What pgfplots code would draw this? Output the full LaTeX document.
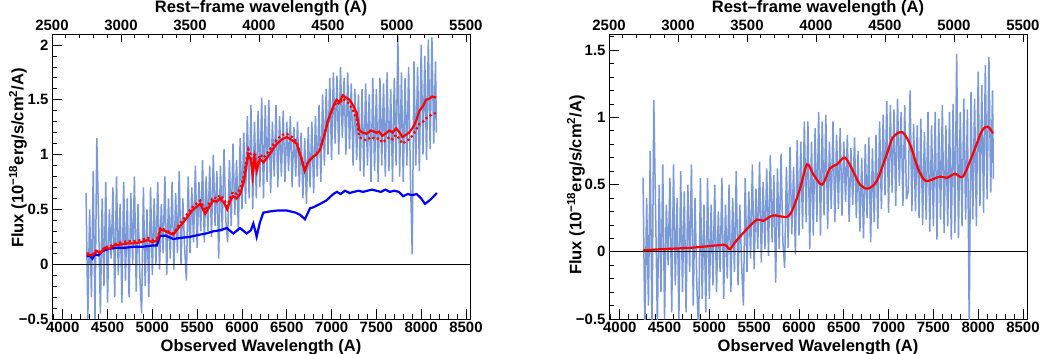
\documentclass[border=0pt]{standalone}
\usepackage{fontspec}
\setmainfont{Liberation Sans}
\usepackage{pgfplots}
\pgfplotsset{compat=1.18}
\usepackage{pgfplotstable}

\definecolor{spec}{RGB}{122,153,214}

% observed spectrum (left) and host-subtracted spectrum (right)
\pgfplotstableread{
lam fl fr
4260 0.65 0.55
4280 -0.50 -0.60
4300 0.50 0.40
4320 -0.30 -0.40
4340 0.85 0.75
4360 -0.50 -0.60
4380 1.15 1.13
4400 0.40 0.30
4420 -0.45 -0.55
4440 0.60 0.50
4460 -0.20 -0.30
4480 0.75 0.65
4500 -0.35 -0.50
4520 0.50 0.35
4540 0.05 -0.10
4560 0.70 0.55
4580 -0.30 -0.45
4600 0.80 0.65
4620 -0.10 -0.25
4640 0.55 0.40
4660 -0.35 -0.50
4680 0.75 0.60
4700 -0.15 -0.30
4720 0.60 0.45
4740 -0.30 -0.45
4760 0.65 0.50
4780 0.00 -0.15
4800 0.80 0.65
4820 -0.25 -0.40
4840 0.55 0.40
4860 -0.10 -0.25
4880 -0.45 -0.60
4900 0.70 0.55
4920 -0.20 -0.35
4940 0.50 0.35
4960 -0.30 -0.45
4980 0.70 0.55
5000 -0.10 -0.35
5020 0.60 0.35
5040 0.00 -0.25
5060 0.75 0.50
5080 -0.05 -0.30
5100 0.55 0.30
5120 0.10 -0.15
5140 0.80 0.55
5160 -0.10 -0.35
5180 0.60 0.35
5200 0.05 -0.20
5220 0.75 0.50
5240 -0.05 -0.30
5260 0.65 0.40
5280 0.10 -0.15
5300 0.85 0.60
5320 0.00 -0.25
5340 0.60 0.35
5360 0.15 -0.10
5380 -0.15 -0.40
5400 0.80 0.55
5420 0.10 -0.15
5440 0.70 0.45
5460 0.20 -0.05
5480 0.90 0.65
5500 0.15 -0.13
5520 0.75 0.47
5540 0.30 0.02
5560 0.95 0.67
5580 0.20 -0.08
5600 0.80 0.52
5620 0.30 0.02
5640 0.90 0.62
5660 0.25 -0.03
5680 1.00 0.72
5700 0.35 0.07
5720 0.85 0.57
5740 0.05 -0.23
5760 0.90 0.62
5780 0.30 0.02
5800 1.05 0.73
5820 0.40 0.08
5840 0.20 -0.12
5860 0.95 0.63
5880 0.35 0.03
5900 1.10 0.78
5920 0.45 0.13
5940 0.95 0.63
5960 0.30 -0.02
5980 1.15 0.83
6000 0.50 0.12
6020 1.20 0.82
6040 0.55 0.17
6060 1.35 0.97
6080 0.60 0.22
6100 1.45 0.97
6120 0.50 0.02
6140 1.30 0.82
6160 0.60 0.12
6180 1.40 0.92
6200 0.70 0.22
6220 1.52 1.04
6240 0.60 0.12
6260 1.45 0.97
6280 0.75 0.27
6300 1.50 1.02
6320 0.65 0.17
6340 1.30 0.82
6360 0.80 0.32
6380 1.45 0.97
6400 0.70 0.22
6420 1.35 0.87
6440 0.80 0.32
6460 1.40 0.92
6480 0.75 0.27
6500 1.30 0.82
6520 0.85 0.37
6540 1.35 0.87
6560 0.70 0.22
6580 1.25 0.77
6600 0.80 0.35
6620 1.30 0.85
6640 0.70 0.25
6660 1.20 0.75
6680 0.60 0.15
6700 1.15 0.70
6720 0.55 0.10
6740 1.25 0.80
6760 0.70 0.25
6780 1.30 0.85
6800 0.65 0.07
6820 1.35 0.77
6840 0.80 0.22
6860 1.45 0.87
6880 0.75 0.17
6900 1.55 0.97
6920 0.90 0.32
6940 1.60 1.02
6960 1.00 0.42
6980 1.70 1.12
7000 0.95 0.29
7020 1.75 1.09
7040 1.10 0.44
7060 1.72 1.06
7080 1.00 0.34
7100 1.80 1.14
7120 1.15 0.49
7140 1.70 1.04
7160 1.00 0.34
7180 1.75 1.09
7200 1.05 0.39
7220 1.65 0.45
7240 0.90 1.20
7260 1.60 0.30
7280 0.95 0.95
7300 1.55 0.30
7320 0.85 0.94
7340 1.60 0.25
7360 0.80 0.99
7380 1.65 0.20
7400 0.90 0.89
7420 1.55 0.24
7440 0.75 1.04
7460 1.70 0.15
7480 0.85 0.94
7500 1.60 0.19
7520 0.75 1.04
7540 1.70 0.09
7560 0.90 0.99
7580 1.65 0.24
7600 0.80 1.09
7620 1.75 0.14
7640 0.85 0.94
7660 1.60 0.19
7680 0.75 1.04
7700 1.70 0.09
7720 0.90 1.10
7740 2.08 0.14
7760 0.80 1.47
7780 1.75 0.10
7800 0.75 1.04
7820 1.70 0.19
7840 0.90 1.14
7860 1.80 0.24
7880 0.80 1.06
7900 0.09 -0.55
7920 1.85 1.19
7940 0.90 0.24
7960 1.80 1.14
7980 0.85 0.19
8000 2.00 1.34
8020 1.00 0.34
8040 1.90 1.24
8060 0.95 0.29
8080 2.05 1.39
8100 1.05 0.39
8120 2.07 1.45
8140 1.10 0.44
8160 1.85 1.20
8170 1.20 0.54
}\spectab

\newcommand\tfont{\fontsize{16.6}{18}\selectfont\bfseries}

\pgfplotsset{
  flux/.style={
    scale only axis, width=418bp, height=285bp, anchor=south west,
    xmin=3880, xmax=8545,
    xtick={4000,4500,...,8500},
    minor xtick={3900,4000,...,8500},
    xtick pos=bottom, ytick pos=left, tick align=inside,
    major tick length=10bp, minor tick length=5bp,
    tick style={black, line width=0.7bp},
    axis line style={line width=0.8bp},
    /pgf/number format/1000 sep={},
    /pgf/number format/assume math mode=true,
    ticklabel style={font=\fontsize{15}{15}\selectfont\bfseries},
  },
  rest/.style={
    scale only axis, width=418bp, height=285bp, anchor=south west,
    xmin=2500, xmax=5530, ymin=0, ymax=1,
    axis x line*=top, axis y line=none,
    xtick={2500,3000,...,5500},
    minor xtick={2500,2600,...,5500},
    tick align=inside,
    major tick length=8bp, minor tick length=4bp,
    tick style={black, line width=0.7bp},
    axis line style={line width=0.8bp, -},
    /pgf/number format/1000 sep={},
    /pgf/number format/assume math mode=true,
    ticklabel style={font=\fontsize{15}{15}\selectfont\bfseries},
  },
  specline/.style={spec, line width=1.5bp, line join=bevel},
}

\begin{document}
\begin{tikzpicture}
\useasboundingbox (0,0) rectangle (1042bp,354bp);

% ---- left panel ----
\begin{axis}[flux, at={(52bp,35bp)}, ymin=-0.5, ymax=2.1,
  ytick={-0.5,0,0.5,1,1.5,2}, yticklabels={−0.5,0,0.5,1,1.5,2},
  minor ytick={-0.4,-0.3,-0.2,-0.1,0.1,0.2,0.3,0.4,0.6,0.7,0.8,0.9,1.1,1.2,1.3,1.4,1.6,1.7,1.8,1.9,2.1}]
\addplot[specline] table[x=lam, y=fl]{\spectab};
\addplot[black, line width=0.6bp] coordinates {(3880,0) (8545,0)};
\addplot[blue, line width=2.2bp] coordinates {
(4268,0.07) (4300,0.08) (4330,0.05) (4360,0.09) (4400,0.08) (4440,0.12) (4480,0.13)
(4520,0.14) (4600,0.15) (4700,0.15) (4800,0.16) (4900,0.16) (5000,0.17) (5050,0.17)
(5085,0.26) (5150,0.26) (5234,0.23) (5320,0.24) (5420,0.25) (5532,0.27) (5600,0.28)
(5680,0.30) (5760,0.31) (5830,0.33) (5904,0.28) (5978,0.33) (6053,0.28) (6100,0.31)
(6127,0.37) (6150,0.30) (6164,0.25) (6200,0.38) (6238,0.47) (6300,0.48) (6400,0.49)
(6499,0.49) (6600,0.47) (6650,0.45) (6703,0.41) (6759,0.51) (6800,0.52) (6871,0.55)
(6940,0.58) (7019,0.64) (7060,0.66) (7100,0.64) (7150,0.67) (7200,0.65) (7250,0.66)
(7300,0.67) (7350,0.66) (7400,0.67) (7450,0.68) (7500,0.67) (7550,0.66) (7600,0.68)
(7650,0.66) (7700,0.67) (7750,0.66) (7800,0.62) (7850,0.64) (7900,0.63) (7950,0.64)
(8000,0.60) (8043,0.55) (8090,0.58) (8130,0.61) (8175,0.65)};
\addplot[red, line width=2.2bp, dash pattern=on 2.2bp off 2.6bp] coordinates {
(4268,0.10) (4330,0.09) (4380,0.13) (4423,0.11) (4470,0.16) (4520,0.16) (4568,0.18)
(4650,0.20) (4720,0.21) (4790,0.21) (4870,0.22) (4950,0.24) (5000,0.22) (5057,0.24)
(5090,0.33) (5150,0.31) (5200,0.29) (5235,0.28) (5290,0.35) (5335,0.40) (5390,0.46)
(5445,0.52) (5490,0.55) (5535,0.58) (5590,0.49) (5640,0.56) (5680,0.61) (5720,0.60)
(5755,0.63) (5800,0.59) (5835,0.53) (5870,0.61) (5900,0.66) (5940,0.64) (5980,0.69)
(6020,0.80) (6050,0.95) (6070,1.05) (6100,1.00) (6120,0.84) (6140,1.01) (6165,0.88)
(6200,1.00) (6240,0.97) (6280,1.01) (6330,1.07) (6390,1.14) (6450,1.18) (6500,1.19)
(6560,1.16) (6610,1.12) (6660,0.98) (6700,0.86) (6740,0.94) (6780,0.97) (6830,1.01)
(6870,1.05) (6920,1.18) (6960,1.31) (7000,1.39) (7030,1.44) (7055,1.48) (7090,1.46)
(7125,1.51) (7160,1.49) (7200,1.46) (7240,1.40) (7280,1.32) (7310,1.16) (7350,1.14)
(7390,1.13) (7440,1.16) (7500,1.14) (7530,1.15) (7565,1.11) (7600,1.13) (7645,1.16)
(7680,1.14) (7720,1.18) (7760,1.14) (7790,1.10) (7830,1.12) (7865,1.14) (7910,1.18)
(7945,1.23) (7980,1.28) (8020,1.30) (8055,1.33) (8090,1.35) (8125,1.37) (8168,1.38)};
\addplot[red, line width=2.2bp] coordinates {
(4268,0.09) (4330,0.08) (4380,0.12) (4423,0.10) (4470,0.15) (4520,0.14) (4568,0.17)
(4650,0.18) (4720,0.19) (4790,0.19) (4870,0.20) (4950,0.22) (5000,0.20) (5057,0.22)
(5090,0.32) (5150,0.30) (5200,0.28) (5235,0.27) (5290,0.33) (5335,0.37) (5390,0.43)
(5445,0.49) (5490,0.52) (5535,0.55) (5590,0.46) (5640,0.53) (5680,0.58) (5720,0.57)
(5755,0.60) (5800,0.56) (5835,0.50) (5870,0.58) (5900,0.62) (5940,0.60) (5980,0.64)
(6020,0.75) (6050,0.90) (6070,1.00) (6100,0.95) (6120,0.80) (6140,0.97) (6165,0.85)
(6200,0.96) (6240,0.93) (6280,0.97) (6330,1.03) (6390,1.10) (6450,1.14) (6500,1.16)
(6560,1.13) (6610,1.10) (6660,0.97) (6700,0.85) (6740,0.93) (6780,0.97) (6830,1.00)
(6870,1.04) (6920,1.18) (6960,1.31) (7000,1.40) (7030,1.46) (7055,1.50) (7090,1.48)
(7125,1.54) (7160,1.52) (7200,1.50) (7240,1.45) (7280,1.38) (7310,1.22) (7350,1.20)
(7390,1.19) (7440,1.22) (7500,1.20) (7530,1.21) (7565,1.17) (7600,1.19) (7645,1.22)
(7680,1.20) (7720,1.24) (7760,1.20) (7790,1.16) (7830,1.18) (7865,1.20) (7910,1.25)
(7945,1.31) (7980,1.40) (8020,1.44) (8055,1.50) (8090,1.51) (8125,1.53) (8168,1.52)};
\end{axis}
\begin{axis}[rest, at={(52bp,35bp)}]
\end{axis}

% ---- right panel ----
\begin{axis}[flux, at={(609bp,35bp)}, ymin=-0.5, ymax=1.62,
  ytick={-0.5,0,0.5,1,1.5}, yticklabels={−0.5,0,0.5,1,1.5},
  minor ytick={-0.4,-0.3,-0.2,-0.1,0.1,0.2,0.3,0.4,0.6,0.7,0.8,0.9,1.1,1.2,1.3,1.4,1.6}]
\addplot[specline] table[x=lam, y=fr]{\spectab};
\addplot[black, line width=0.6bp] coordinates {(3880,0) (8545,0)};
\addplot[red, line width=2.2bp, smooth, tension=0.5] coordinates {
(4259,0.01) (4483,0.02) (4800,0.03) (5119,0.05) (5180,0.05) (5230,0.02) (5286,0.07)
(5420,0.17) (5532,0.24) (5599,0.23) (5710,0.27) (5866,0.26) (5933,0.32) (6012,0.47)
(6090,0.65) (6157,0.58) (6257,0.50) (6346,0.62) (6424,0.65) (6514,0.70) (6603,0.60)
(6681,0.50) (6770,0.47) (6871,0.53) (6982,0.73) (7049,0.85) (7150,0.89) (7239,0.80)
(7328,0.62) (7406,0.53) (7496,0.54) (7574,0.56) (7652,0.55) (7741,0.58) (7831,0.56)
(7942,0.73) (8043,0.90) (8110,0.93) (8165,0.88)};
\end{axis}
\begin{axis}[rest, at={(609bp,35bp)}]
\end{axis}

% ---- axis titles ----
\node[font=\tfont, anchor=base, inner sep=0] at (261bp,2.5bp) {Observed Wavelength (A)};
\node[font=\tfont, anchor=base, inner sep=0] at (818bp,2.5bp) {Observed Wavelength (A)};
\node[font=\tfont, anchor=base, inner sep=0] at (261bp,341bp) {Rest–frame wavelength (A)};
\node[font=\tfont, anchor=base, inner sep=0] at (818bp,341bp) {Rest–frame wavelength (A)};
\node[font=\tfont, rotate=90, inner sep=0] at (18bp,196bp) {Flux (10\textsuperscript{−18}erg/s/cm\textsuperscript{2}/A)};
\node[font=\tfont, rotate=90, inner sep=0] at (576bp,169bp) {Flux (10\textsuperscript{−18}erg/s/cm\textsuperscript{2}/A)};
\end{tikzpicture}
\end{document}
